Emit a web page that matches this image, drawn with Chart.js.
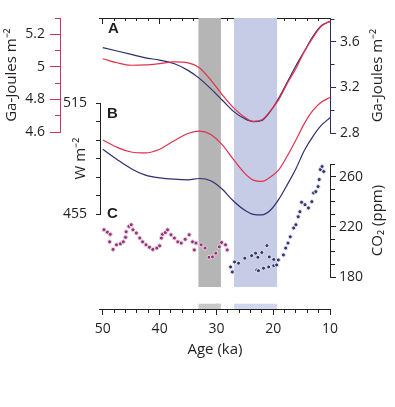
<!DOCTYPE html>
<html>
<head>
<meta charset="utf-8">
<script src="https://cdn.jsdelivr.net/npm/chart.js@4.4.1/dist/chart.umd.min.js"></script>
<style>
  body { margin: 0; background: #fff; }
  #wrap { width: 395px; height: 407px; }
</style>
</head>
<body>
<div id="wrap"><canvas id="chart"></canvas></div>
<script>
// ---- values ----
const ageTicks = [10, 12, 14, 16, 18, 20, 22, 24, 26, 28, 30, 32, 34, 36, 38, 40, 42, 44, 46, 48, 50];
const ageLabels = [10, 20, 30, 40, 50];

// A and B curves share one age grid (ka)
const curveAge = [50, 47.5, 45, 42.5, 40, 37.5, 35, 33, 31, 29, 27, 25, 23.5, 22, 20.5, 19, 17.5, 16, 14.5, 13, 11.5, 10];
const aRed  = [5.05, 5.025, 5.01, 5.012, 5.02, 5.03, 5.025, 4.995, 4.92, 4.83, 4.75, 4.69, 4.665, 4.675, 4.73, 4.80, 4.90, 4.99, 5.095, 5.18, 5.25, 5.28];
const aBlue = [3.55, 3.52, 3.49, 3.46, 3.44, 3.41, 3.35, 3.28, 3.19, 3.09, 2.99, 2.925, 2.90, 2.91, 2.99, 3.11, 3.25, 3.39, 3.52, 3.65, 3.745, 3.78];
const bRed  = [495, 491, 488.5, 488, 490, 494.5, 498.5, 499.8, 498, 492.5, 484.5, 477, 473.3, 472.6, 475, 479, 486.5, 495, 504, 511, 515.5, 518];
const bBlue = [490, 484.5, 479.5, 476, 474.5, 473.8, 473.5, 474.2, 473, 468.5, 462, 457, 454.8, 454.5, 457, 463, 471, 479.5, 489.5, 497, 503, 507];

// C: CO2 record
const co2Age = [49.8, 49.2, 48.8, 48.7, 48.2, 47.6, 46.9, 46.4, 46.0, 45.9, 45.4, 45.0, 44.7, 44.1, 43.5, 43.0, 42.4, 41.8, 41.2, 40.5,
  40.0, 39.7, 39.5, 39.0, 38.6, 38.0, 37.4, 36.8, 36.2, 35.5, 34.8, 34.2, 33.9, 33.6, 32.7, 32.0, 31.3, 30.7, 30.1, 29.5,
  29.1, 28.4, 28.1, 27.5, 27.2, 26.8, 26.1, 25.0, 23.8, 23.1, 22.9, 22.7, 22.6, 22.0, 21.7, 21.1, 20.8, 20.7, 19.9, 19.9,
  19.4, 19.1, 18.2, 17.8, 17.4, 17.0, 16.4, 16.0, 15.6, 15.3, 15.0, 14.4, 13.8, 13.2, 12.9, 12.5, 12.1, 11.9, 11.7, 11.4, 11.1];
const co2Ppm = [217.6, 215.7, 208, 214, 202, 205.6, 206.4, 208, 211.6, 216, 220.3, 221.6, 217.6, 215, 211, 208, 205.6, 203.7, 202, 203,
  204.8, 211, 214, 215.4, 217.6, 213.6, 211, 208, 207, 210, 213.6, 208, 201.6, 207, 205.6, 203, 195.7, 196, 199, 204,
  207.5, 205.6, 201.6, 188, 184, 192, 191, 195, 197, 199, 185.6, 195.7, 185, 199.5, 187, 205, 188, 196, 194, 189,
  189.6, 193.6, 197.6, 203, 207, 212, 219, 221.6, 228, 232, 239.5, 237.6, 235, 240, 247, 248, 252, 257.6, 265.6, 268, 264];

// shaded intervals (ka)
const grayBand = [33.2, 29.2];
const blueBand = [26.9, 19.3];

const pinkTicks = [4.6, 4.7, 4.8, 4.9, 5.0, 5.1, 5.2, 5.3];
const pinkLabels = [4.6, 4.8, 5, 5.2];
const wTicks = [455, 465, 475, 485, 495, 505, 515];
const wLabels = [455, 515];
const navyTicks = [2.8, 3.0, 3.2, 3.4, 3.6, 3.8];
const navyLabels = [2.8, 3.2, 3.6];
const co2Ticks = [180, 190, 200, 210, 220, 230, 240, 250, 260, 270];
const co2Labels = [180, 220, 260];

// ---- styling ----
const INK = '#231f20';
const PINK = '#c8336a';
const NAVY = '#2b2d62';
const RED = '#e2314b';
const LINE_BLUE = '#2d2f6e';

Chart.defaults.font.family = "'Open Sans', sans-serif";
Chart.defaults.color = INK;

const has = (list, v) => list.some(t => Math.abs(t - v) < 1e-6);
const pts = (xs, ys) => xs.map((x, i) => ({x: x, y: ys[i]}));

// tick marks only; minor ticks are shortened with a dash pattern
function tickGrid(color, len, minor, majors, fromAxis) {
  return {
    drawOnChartArea: false,
    drawTicks: true,
    tickLength: len,
    tickColor: color,
    tickWidth: 1,
    tickBorderDash: ctx => {
      if (!ctx.tick || has(majors, ctx.tick.value)) return [];
      const L = Math.abs(len);
      return fromAxis ? [minor, 100] : [0, L - minor, minor, 100];
    }
  };
}

function yAxis(opts) {
  const w = opts.width;
  const ticks = opts.ticks;
  const labels = opts.labels;
  const ax = {
    type: 'linear',
    position: opts.position,
    stack: opts.stack,
    stackWeight: opts.stackWeight,
    weight: opts.weight,
    display: opts.display !== false,
    afterFit: s => { s.width = w; }
  };
  if (opts.min !== undefined) {
    ax.min = opts.min;
    ax.max = opts.max;
  }
  if (ticks) {
    ax.afterBuildTicks = s => { s.ticks = ticks.map(v => ({value: v})); };
    ax.ticks = {
      autoSkip: false,
      padding: opts.padding,
      font: {size: 14},
      color: INK,
      callback: v => has(labels, v) ? String(v) : ''
    };
    ax.grid = tickGrid(opts.color, opts.len, opts.minor, labels, opts.position === 'right');
    ax.border = {display: true, color: opts.color, width: 1};
    if (opts.title) {
      ax.title = {display: true, text: opts.title, font: {size: 15}, color: INK, padding: {top: opts.titlePad, bottom: 0}};
    }
  }
  return ax;
}

function band(range, color, top, floor) {
  return {
    type: 'line',
    data: pts(range, [top, top]),
    xAxisID: 'x',
    yAxisID: 'yBand',
    fill: {value: floor},
    backgroundColor: color,
    borderWidth: 0,
    pointRadius: 0,
    order: 5
  };
}

function curve(ys, color, axis) {
  return {
    type: 'line',
    data: pts(curveAge, ys),
    xAxisID: 'x',
    yAxisID: axis,
    borderColor: color,
    borderWidth: 1.2,
    pointRadius: 0,
    cubicInterpolationMode: 'monotone',
    fill: false,
    clip: false,
    order: 1
  };
}

// side titles on the right (read bottom-to-top) and panel letters
const annotations = {
  id: 'annotations',
  afterDraw(chart) {
    const {ctx, chartArea, scales} = chart;
    ctx.save();
    ctx.fillStyle = INK;
    ctx.font = "15px 'Open Sans'";
    ctx.textAlign = 'center';
    ctx.textBaseline = 'middle';
    [[scales.yA2, 'Ga-Joules m⁻²'], [scales.yCO2, 'CO₂ (ppm)']].forEach(([s, t]) => {
      ctx.save();
      ctx.translate(s.left + 48, (s.top + s.bottom) / 2);
      ctx.rotate(-Math.PI / 2);
      ctx.fillText(t, 0, 0);
      ctx.restore();
    });
    ctx.font = "bold 15px 'Liberation Sans'";
    ctx.textAlign = 'left';
    ctx.textBaseline = 'alphabetic';
    const x0 = chartArea.left + 7;
    ctx.fillText('A', x0 + 1, scales.yA1.top + 15);
    ctx.fillText('B', x0, scales.yB.top + 15);
    ctx.fillText('C', x0, scales.yB.bottom + 4);
    ctx.restore();
  }
};

const xCommon = {
  type: 'linear',
  reverse: true,
  min: 10,
  max: 50.5,
  afterBuildTicks: s => { s.ticks = ageTicks.map(v => ({value: v})); },
  border: {display: true, color: INK, width: 1}
};

new Chart(document.getElementById('chart'), {
  type: 'line',
  data: {
    datasets: [
      {
        type: 'line',
        data: pts(co2Age, co2Ppm),
        xAxisID: 'x',
        yAxisID: 'yCO2',
        showLine: false,
        pointRadius: 2,
        pointBorderWidth: 1,
        pointBackgroundColor: c => (c.raw && c.raw.x > 28) ? '#8a3b7a' : '#34376f',
        pointBorderColor: c => (c.raw && c.raw.x > 28) ? '#f2cfe0' : '#e4e4f0',
        clip: false,
        order: 0
      },
      curve(aRed, RED, 'yA1'),
      curve(aBlue, LINE_BLUE, 'yA2'),
      curve(bRed, RED, 'yB'),
      curve(bBlue, LINE_BLUE, 'yB'),
      band(grayBand, '#b5b5b5', 1, 0.076),
      band(blueBand, '#c6cbe6', 1, 0.076),
      band(grayBand, '#c8c8c8', 0.018, 0),
      band(blueBand, '#d2d6ec', 0.018, 0),
      band([30.2, 29.6], '#8fb3dc', 0.018, 0)
    ]
  },
  options: {
    responsive: true,
    maintainAspectRatio: false,
    animation: false,
    layout: {padding: {left: 0, right: 0, top: 0, bottom: 38}},
    plugins: {
      legend: {display: false},
      tooltip: {enabled: false}
    },
    scales: {
      x: Object.assign({}, xCommon, {
        position: 'bottom',
        afterFit: s => { s.height = 60; },
        ticks: {
          autoSkip: false,
          maxRotation: 0,
          padding: 6,
          font: {size: 14},
          color: INK,
          callback: v => has(ageLabels, v) ? String(v) : ''
        },
        grid: tickGrid(INK, 6, 3, ageLabels, true),
        title: {display: true, text: 'Age (ka)', font: {size: 15}, color: INK, padding: {top: 0, bottom: 10}}
      }),
      x2: Object.assign({}, xCommon, {
        position: 'top',
        afterFit: s => { s.height = 18; },
        ticks: {display: false, autoSkip: false},
        grid: tickGrid(INK, -6, 3, ageLabels, false)
      }),
      yA1: yAxis({position: 'left', stack: 'p', stackWeight: 114, weight: 10, width: 60, min: 4.6, max: 5.3,
        ticks: pinkTicks, labels: pinkLabels, color: PINK, len: 10, minor: 5, padding: 5,
        title: 'Ga-Joules m⁻²', titlePad: 3}),
      yA1pad: yAxis({position: 'left', stack: 'p', stackWeight: 177, weight: 9, width: 60, display: false}),
      yBtop: yAxis({position: 'left', stack: 'b', stackWeight: 85, weight: 8, width: 40, display: false}),
      yB: yAxis({position: 'left', stack: 'b', stackWeight: 111, weight: 7, width: 40, min: 455, max: 515,
        ticks: wTicks, labels: wLabels, color: INK, len: 4, minor: 4, padding: 9,
        title: 'W m⁻²', titlePad: 12}),
      yBbot: yAxis({position: 'left', stack: 'b', stackWeight: 95, weight: 6, width: 40, display: false}),
      yBand: {type: 'linear', position: 'left', weight: 0, display: false, min: 0, max: 1, afterFit: s => { s.width = 0; }},
      yA2: yAxis({position: 'right', stack: 'r', stackWeight: 115, weight: 1, width: 65, min: 2.8, max: 3.81,
        ticks: navyTicks, labels: navyLabels, color: NAVY, len: 6, minor: 3.5, padding: 4}),
      yRpad1: yAxis({position: 'right', stack: 'r', stackWeight: 31, weight: 2, width: 65, display: false}),
      yCO2: yAxis({position: 'right', stack: 'r', stackWeight: 113, weight: 3, width: 65, min: 180, max: 270,
        ticks: co2Ticks, labels: co2Labels, color: INK, len: 6, minor: 4, padding: 3}),
      yRpad2: yAxis({position: 'right', stack: 'r', stackWeight: 32, weight: 4, width: 65, display: false})
    }
  },
  plugins: [annotations]
});
</script>
</body>
</html>
